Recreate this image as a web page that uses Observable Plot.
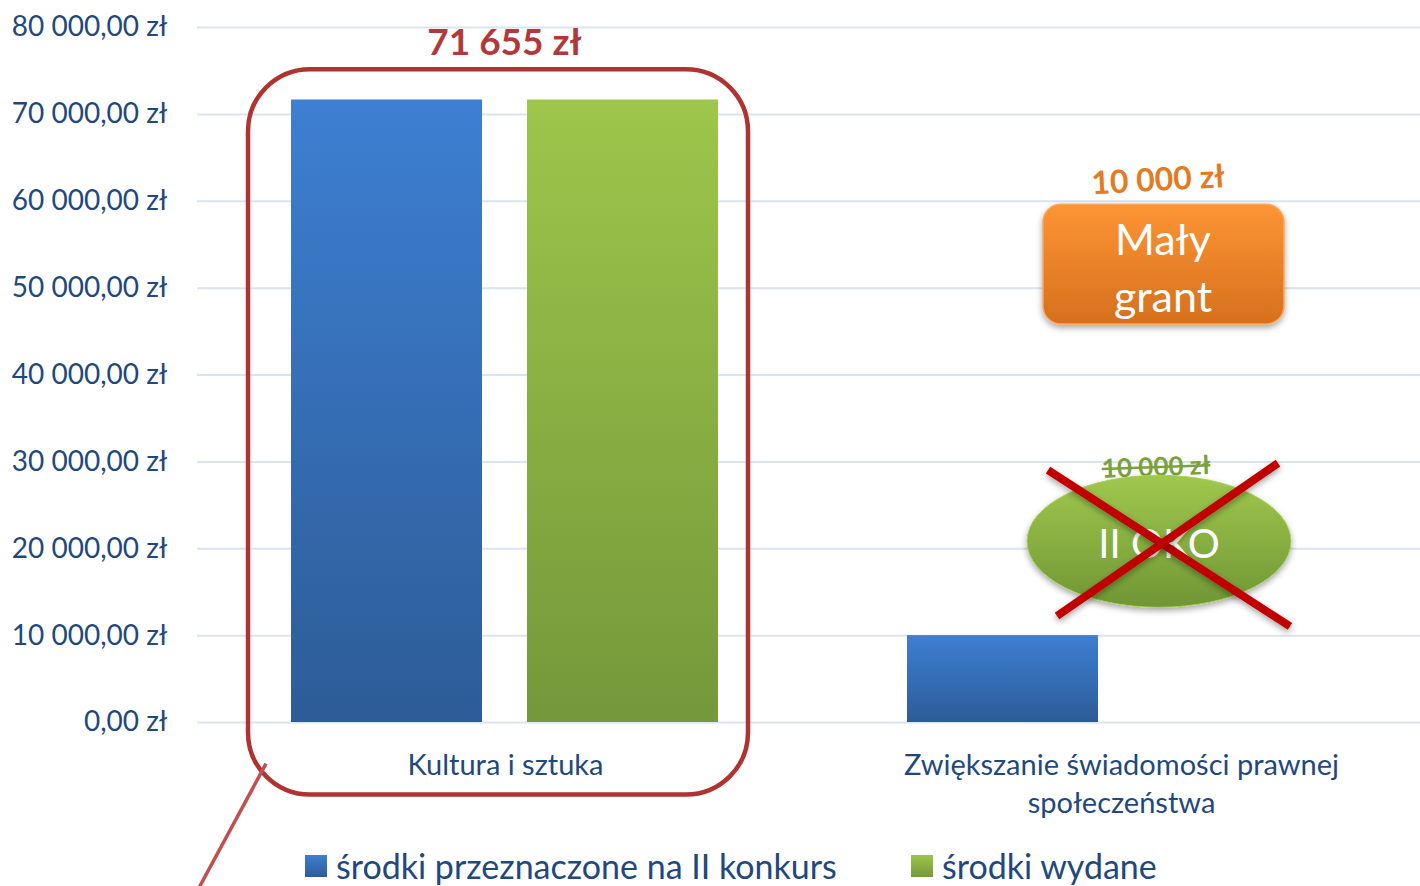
<!DOCTYPE html>
<html><head><meta charset="utf-8">
<script src="https://cdn.jsdelivr.net/npm/d3@7"></script>
<script src="https://cdn.jsdelivr.net/npm/@observablehq/plot@0.6"></script>
<style>
html,body{margin:0;padding:0;background:#fff;overflow:hidden;}
#chart{position:relative;width:1420px;height:886px;overflow:hidden;font-family:Lato,"Open Sans",sans-serif;}
#legend{position:absolute;left:0;top:849px;width:1420px;height:34px;font-size:34px;line-height:34px;color:#1f497d;white-space:nowrap;}
#legend .item{position:absolute;top:0;height:34px;display:flex;align-items:center;}
#legend .sw{width:22px;height:22px;margin-right:9px;}
</style></head><body><div id="chart"><div id="legend"></div></div>
<script>
// ---- data ----
const categories = ["Kultura i sztuka", "Zwiększanie świadomości prawnej społeczeństwa"];
const categoryLabels = ["Kultura i sztuka", "Zwiększanie świadomości prawnej\nspołeczeństwa"];
const series = ["środki przeznaczone na II konkurs", "środki wydane"];
const allocated = [71655, 10000];
const spent = [71655, 0];
const yTicks = [0, 10000, 20000, 30000, 40000, 50000, 60000, 70000, 80000];
const seriesTop = ["#3d7fd2", "#9dc64b"];
const seriesBottom = ["#2d5c97", "#74983a"];

const data = categories.flatMap((c, i) => [
  {category: c, series: series[0], value: allocated[i]},
  {category: c, series: series[1], value: spent[i]}
]).filter(d => d.value > 0);

const fmtZl = n => String(n).replace(/\B(?=(\d{3})+(?!\d))/g, " ") + ",00 zł";
const textColor = "#1f497d";

const plot = Plot.plot({
  width: 1420, height: 886,
  marginLeft: 197, marginRight: 0, marginTop: 27, marginBottom: 164,
  style: {fontFamily: "Lato, 'Open Sans', sans-serif", background: "transparent", overflow: "visible"},
  fx: {domain: categories, range: [197, 1429], padding: 0, axis: null, label: null},
  x: {domain: series, paddingInner: 0.19, paddingOuter: 0.4, axis: null},
  y: {domain: [0, 80000], axis: null},
  color: {domain: series, range: ["url(#gradBlue)", "url(#gradGreen)"]},
  marks: [
    Plot.gridY(yTicks, {stroke: "#d9e4f1", strokeOpacity: 1, strokeWidth: 2}),
    Plot.axisY(yTicks, {tickFormat: fmtZl, tickSize: 0, tickPadding: 30, fontSize: 28, fill: textColor, label: null}),
    Plot.barY(data, {fx: "category", x: "series", y: "value", fill: "series"}),
    Plot.text(categories, {fx: d => d, text: (d, i) => categoryLabels[i], frameAnchor: "bottom", dy: 26,
      lineAnchor: "top", lineHeight: 1.31, fontSize: 29, fill: textColor})
  ]
});

document.getElementById("chart").prepend(plot);

// ---- gradients ----
const svg = d3.select(plot);
const defs = svg.insert("defs", ":first-child");
function grad(id, top, bottom) {
  const g = defs.append("linearGradient").attr("id", id).attr("x1", 0).attr("y1", 0).attr("x2", 0).attr("y2", 1);
  g.append("stop").attr("offset", "0%").attr("stop-color", top);
  g.append("stop").attr("offset", "100%").attr("stop-color", bottom);
}
grad("gradBlue", seriesTop[0], seriesBottom[0]);
grad("gradGreen", seriesTop[1], seriesBottom[1]);
grad("gradOrange", "#fd9535", "#d5701d");
grad("gradOval", "#a0c84d", "#6f9634");
const sh = defs.append("filter").attr("id", "shadow").attr("x", "-20%").attr("y", "-20%").attr("width", "140%").attr("height", "150%");
sh.append("feDropShadow").attr("dx", 0).attr("dy", 3).attr("stdDeviation", 3).attr("flood-color", "#000").attr("flood-opacity", 0.35);

// ---- annotations (placed with the chart's own scales) ----
const fxS = plot.scale("fx"), xS = plot.scale("x"), yS = plot.scale("y");
const Y = v => yS.apply(v);
const x0 = Math.min(...xS.range);
const b1 = fxS.apply(categories[0]), b2 = fxS.apply(categories[1]);
const bar1L = b1 + xS.apply(series[0]) - x0;
const bar2R = b1 + xS.apply(series[1]) - x0 + xS.bandwidth;
const ann = svg.append("g");

// highlight box around first group
ann.append("rect").attr("x", bar1L - 43).attr("y", Y(75150)).attr("width", bar2R - bar1L + 73)
  .attr("height", Y(-8350) - Y(75150)).attr("rx", 62).attr("ry", 62)
  .attr("fill", "none").attr("stroke", "#b03331").attr("stroke-width", 4.5);
ann.append("line").attr("x1", bar1L - 25).attr("y1", Y(-4800)).attr("x2", bar1L - 94).attr("y2", Y(-19500))
  .attr("stroke", "#c0504d").attr("stroke-width", 3.5);
ann.append("text").attr("x", (bar1L + bar2R) / 2).attr("y", Y(78500)).attr("text-anchor", "middle")
  .attr("dominant-baseline", "central").attr("font-size", 37).attr("font-weight", 700).attr("fill", "#b3383a").text("71 655 zł");

// "Mały grant" box
const cx = b2 + 350;
ann.append("text").attr("x", cx - 5).attr("y", Y(62600)).attr("text-anchor", "middle").attr("dominant-baseline", "central")
  .attr("font-size", 32).attr("font-weight", 700).attr("fill", "#e27b22")
  .attr("transform", `rotate(-3 ${cx - 5} ${Y(62600)})`).text("10 000 zł");
ann.append("line").attr("x1", cx).attr("x2", cx).attr("y1", Y(45800)).attr("y2", Y(32800))
  .attr("stroke", "#f79646").attr("stroke-width", 6).attr("filter", "url(#shadow)");
ann.append("rect").attr("x", cx - 120).attr("y", Y(59600)).attr("width", 241).attr("height", Y(45800) - Y(59600))
  .attr("rx", 18).attr("fill", "url(#gradOrange)").attr("stroke", "#f9a85c").attr("stroke-width", 1.5).attr("filter", "url(#shadow)");
ann.append("text").attr("x", cx).attr("y", Y(55700)).attr("text-anchor", "middle").attr("dominant-baseline", "central")
  .attr("font-size", 43).attr("fill", "#fff").text("Mały");
ann.append("text").attr("x", cx).attr("y", Y(49100)).attr("text-anchor", "middle").attr("dominant-baseline", "central")
  .attr("font-size", 43).attr("fill", "#fff").text("grant");

// crossed-out "II OKO"
const ox = cx - 4;
ann.append("text").attr("x", ox - 3).attr("y", Y(29500)).attr("text-anchor", "middle").attr("dominant-baseline", "central")
  .attr("font-size", 26).attr("font-weight", 700).attr("fill", "#7aa23c").attr("text-decoration", "line-through")
  .attr("transform", `rotate(-2 ${ox} ${Y(29500)})`).text("10 000 zł");
ann.append("ellipse").attr("cx", ox).attr("cy", Y(20800)).attr("rx", 132).attr("ry", 66)
  .attr("fill", "url(#gradOval)").attr("stroke", "#a9cf5c").attr("stroke-width", 1).attr("filter", "url(#shadow)");
ann.append("text").attr("x", ox).attr("y", Y(20600)).attr("text-anchor", "middle").attr("dominant-baseline", "central")
  .attr("font-size", 40).attr("fill", "#fff").text("II OKO");
ann.append("line").attr("x1", ox - 111).attr("y1", Y(29000)).attr("x2", ox + 131).attr("y2", Y(11000))
  .attr("stroke", "#c00000").attr("stroke-width", 8).attr("filter", "url(#shadow)");
ann.append("line").attr("x1", ox + 119).attr("y1", Y(29800)).attr("x2", ox - 102).attr("y2", Y(12200))
  .attr("stroke", "#c00000").attr("stroke-width", 8).attr("filter", "url(#shadow)");

// ---- legend ----
const legend = document.getElementById("legend");
const legendX = [305, 911];
series.forEach((s, i) => {
  const item = document.createElement("div");
  item.className = "item";
  item.style.left = legendX[i] + "px";
  const sw = document.createElement("div");
  sw.className = "sw";
  sw.style.background = `linear-gradient(${seriesTop[i]}, ${seriesBottom[i]})`;
  const t = document.createElement("span");
  t.textContent = s;
  item.append(sw, t);
  legend.append(item);
});
</script></body></html>
